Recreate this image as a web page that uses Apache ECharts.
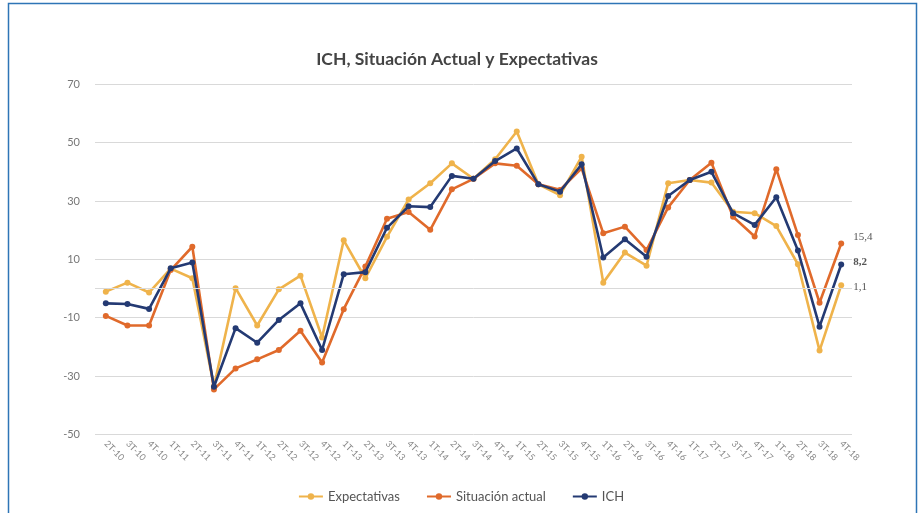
<!DOCTYPE html>
<html>
<head>
<meta charset="utf-8">
<script src="https://cdn.jsdelivr.net/npm/echarts@6/dist/echarts.min.js"></script>
<style>
html,body{margin:0;padding:0;background:#fff;}
#chart{width:922px;height:513px;}
</style>
</head>
<body>
<div id="chart"></div>
<script>
const categories = ["2T-10","3T-10","4T-10","1T-11","2T-11","3T-11","4T-11","1T-12","2T-12","3T-12","4T-12","1T-13","2T-13","3T-13","4T-13","1T-14","2T-14","3T-14","4T-14","1T-15","2T-15","3T-15","4T-15","1T-16","2T-16","3T-16","4T-16","1T-17","2T-17","3T-17","4T-17","1T-18","2T-18","3T-18","4T-18"];
const expectativas = [-1.1, 2.0, -1.4, 6.8, 3.5, -33.5, 0.1, -12.7, -0.3, 4.4, -16.8, 16.5, 3.5, 17.7, 30.5, 36.1, 42.9, 37.6, 44.3, 53.8, 35.7, 32.0, 45.2, 2.0, 12.3, 7.8, 36.1, 37.2, 36.3, 26.3, 25.8, 21.4, 8.3, -21.3, 1.1];
const situacionActual = [-9.4, -12.7, -12.7, 6.3, 14.3, -34.6, -27.4, -24.3, -21.1, -14.5, -25.4, -7.1, 7.5, 23.9, 26.2, 20.1, 34.0, 37.6, 42.9, 42.1, 35.7, 33.8, 41.2, 18.9, 21.2, 13.2, 27.8, 37.2, 43.1, 24.6, 17.8, 40.9, 18.3, -4.9, 15.4];
const ich = [-5.1, -5.3, -7.0, 6.9, 8.9, -33.7, -13.6, -18.6, -10.8, -5.1, -21.1, 4.9, 5.6, 20.8, 28.2, 27.9, 38.6, 37.6, 43.7, 48.0, 35.7, 33.2, 42.6, 10.6, 16.9, 10.9, 31.7, 37.2, 40.0, 25.8, 21.8, 31.3, 13.0, -13.1, 8.2];
const yTicks = [-50, -30, -10, 10, 30, 50, 70];

function withEndLabel(arr, bold, dy) {
  return arr.map((v, i) => {
    if (i !== arr.length - 1) return v;
    return {
      value: v,
      label: {
        show: true, position: 'right', distance: 9, offset: [0, dy],
        fontFamily: 'Liberation Serif', fontSize: 11,
        fontWeight: bold ? 'bold' : 'normal', color: '#555',
        formatter: p => String(p.value).replace('.', ',')
      }
    };
  });
}

const chart = echarts.init(document.getElementById('chart'));
const lineStyle = w => ({ width: w });
chart.setOption({
  animation: false,
  backgroundColor: '#fff',
  title: {
    text: 'ICH, Situación Actual y Expectativas',
    left: 452, top: 45, textAlign: 'center',
    textStyle: { fontFamily: 'Lato', fontWeight: 'bold', fontSize: 17.5, color: '#444' }
  },
  legend: {
    bottom: 5, left: 'center',
    itemWidth: 24, itemHeight: 8, itemGap: 26,
    textStyle: { fontFamily: 'Lato', fontSize: 13, color: '#555' },
    data: ['Expectativas', 'Situación actual', 'ICH']
  },
  graphic: [{
    type: 'rect', silent: true,
    shape: { x: 8.5, y: 3.5, width: 908, height: 530 },
    style: { fill: 'none', stroke: '#2E75B6', lineWidth: 1.5 }
  }],
  grid: { left: 95, right: 70, top: 84.3, bottom: 78.7 },
  xAxis: {
    type: 'category', data: categories, boundaryGap: true,
    axisLine: { show: false }, axisTick: { show: false },
    axisLabel: { rotate: -45, interval: 0, fontSize: 9, color: '#888', fontFamily: 'Lato', margin: 8 }
  },
  yAxis: {
    type: 'value', min: yTicks[0], max: yTicks[yTicks.length - 1], interval: 20,
    axisLine: { show: false }, axisTick: { show: false },
    axisLabel: { fontSize: 11, color: '#777', fontFamily: 'Lato', margin: 15 },
    splitLine: { lineStyle: { color: '#D9D9D9', width: 1 } }
  },
  series: [
    {
      name: 'Expectativas', type: 'line', data: withEndLabel(expectativas, false, 2),
      color: '#EFB34B', symbol: 'circle', symbolSize: 6, lineStyle: lineStyle(2.6),
      markLine: {
        silent: true, symbol: 'none', label: { show: false },
        lineStyle: { color: '#D9D9D9', type: 'solid', width: 1 },
        data: [{ yAxis: 0 }]
      },
      z: 2
    },
    {
      name: 'Situación actual', type: 'line', data: withEndLabel(situacionActual, false, -6),
      color: '#E06A2B', symbol: 'circle', symbolSize: 6, lineStyle: lineStyle(2.6), z: 3
    },
    {
      name: 'ICH', type: 'line', data: withEndLabel(ich, true, -2),
      color: '#243A73', symbol: 'circle', symbolSize: 6, lineStyle: lineStyle(2.6), z: 4
    }
  ]
});
</script>
</body>
</html>
